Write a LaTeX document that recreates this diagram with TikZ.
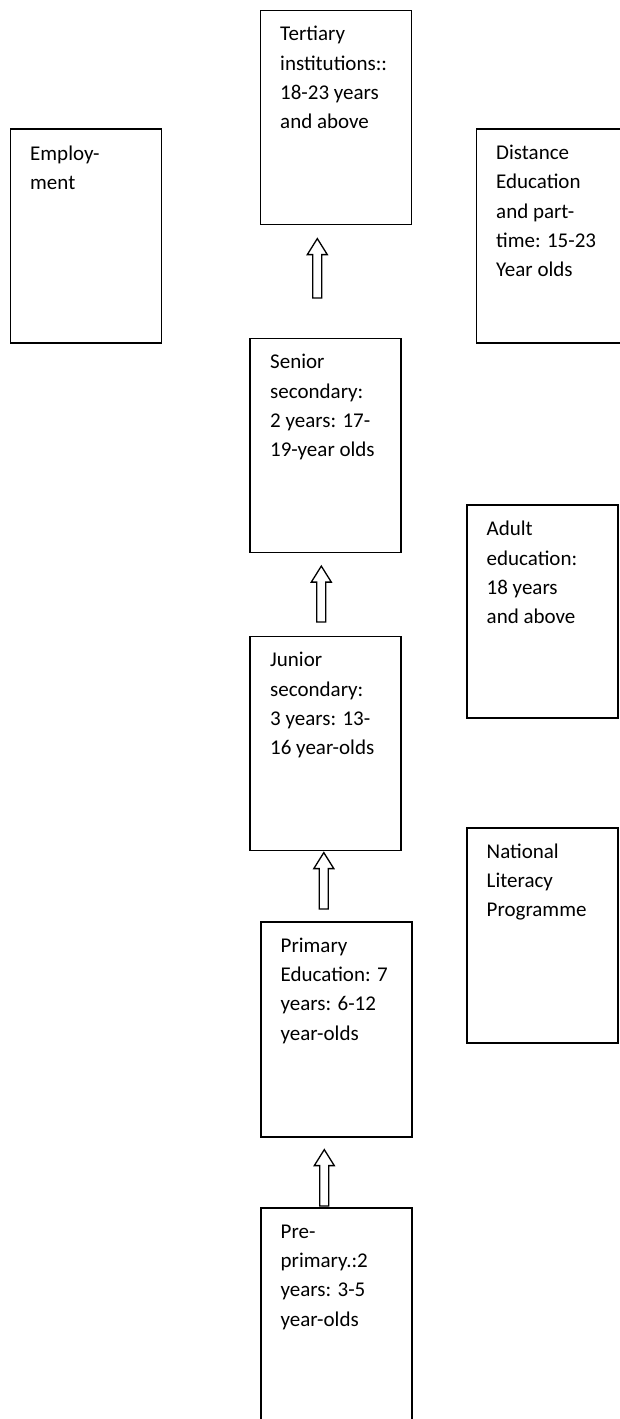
\documentclass[tikz,border=0pt]{standalone}
\usepackage{fontspec}
\setmainfont{Carlito}
\usetikzlibrary{calc}
\newcommand\lblfont{\fontsize{21pt}{29.3pt}\selectfont}
\newcommand\fstrut{\rule{0pt}{22pt}}
\tikzset{
  box/.style={draw, line width=1.6pt, minimum width=151pt, minimum height=214pt, anchor=north west, inner sep=0pt},
  lbl/.style={anchor=north west, inner sep=0pt, align=left, font=\lblfont},
  blockarrow/.style={draw, line width=1.3pt, fill=white, line join=miter,
    to path={let \p1=(\tikztostart), \p2=(\tikztotarget) in
      (\x1-4.5pt,\y1) -- (\x1-4.5pt,\y2-16pt) -- (\x1-10pt,\y2-16pt) -- (\x1,\y2)
      -- (\x1+10pt,\y2-16pt) -- (\x1+4.5pt,\y2-16pt) -- (\x1+4.5pt,\y1) -- cycle}}
}
\begin{document}
\begin{tikzpicture}[x=1pt,y=-1pt]
\useasboundingbox (0,0) rectangle (620,1419);
% boxes
\node[box] (emp) at (9.5,128.3) {};
\node[box] (tert) at (259.5,9.5) {};
\node[box, minimum width=160pt] (dist) at (475.5,128.3) {};
\node[box] (senior) at (249,337.5) {};
\node[box, minimum height=213pt] (adult) at (466,504) {};
\node[box] (junior) at (249,635.5) {};
\node[box, minimum height=215pt] (national) at (466,827) {};
\node[box, minimum height=215pt] (primary) at (260,921) {};
\node[box, minimum height=222pt] (pre) at (260,1207) {};
% labels
\node[lbl] (tEmp) at ($(emp.north west)+(20.5,9.5)$) {\fstrut Employ-\\ment};
\node[lbl] (tTert) at ($(tert.north west)+(20.5,9)$) {\fstrut Tertiary\\institutions::\\18-23 years\\and above};
\node[lbl] (tDist) at ($(dist.north west)+(20.5,9)$) {\fstrut Distance\\Education\\and part-\\time: 15-23\\Year olds};
\node[lbl] (tSenior) at ($(senior.north west)+(21,9)$) {\fstrut Senior\\secondary:\\2 years: 17-\\19-year olds};
\node[lbl] (tAdult) at ($(adult.north west)+(20.5,9.5)$) {\fstrut Adult\\education:\\18 years\\and above};
\node[lbl] (tJunior) at ($(junior.north west)+(21,9)$) {\fstrut Junior\\secondary:\\3 years: 13-\\16 year-olds};
\node[lbl] (tNational) at ($(national.north west)+(20.5,9)$) {\fstrut National\\Literacy\\Programme};
\node[lbl] (tPrimary) at ($(primary.north west)+(20.5,9)$) {\fstrut Primary\\Education: 7\\years: 6-12\\year-olds};
\node[lbl] (tPre) at ($(pre.north west)+(20.5,9)$) {\fstrut Pre-\\primary.:2\\years: 3-5\\year-olds};
% arrows
\draw[blockarrow] ($(senior.north)+(-8,-39.5)$) to ($(tert.south)+(-18.5,13.5)$);
\draw[blockarrow] ($(junior.north)+(-4,-13.5)$) to ($(senior.south)+(-4,13)$);
\draw[blockarrow] ($(primary.north)+(-12.5,-12)$) to ($(junior.south)+(-1.5,1.5)$);
\draw[blockarrow] ($(pre.north)+(-12,-1)$) to ($(primary.south)+(-12,12)$);
\end{tikzpicture}
\end{document}
